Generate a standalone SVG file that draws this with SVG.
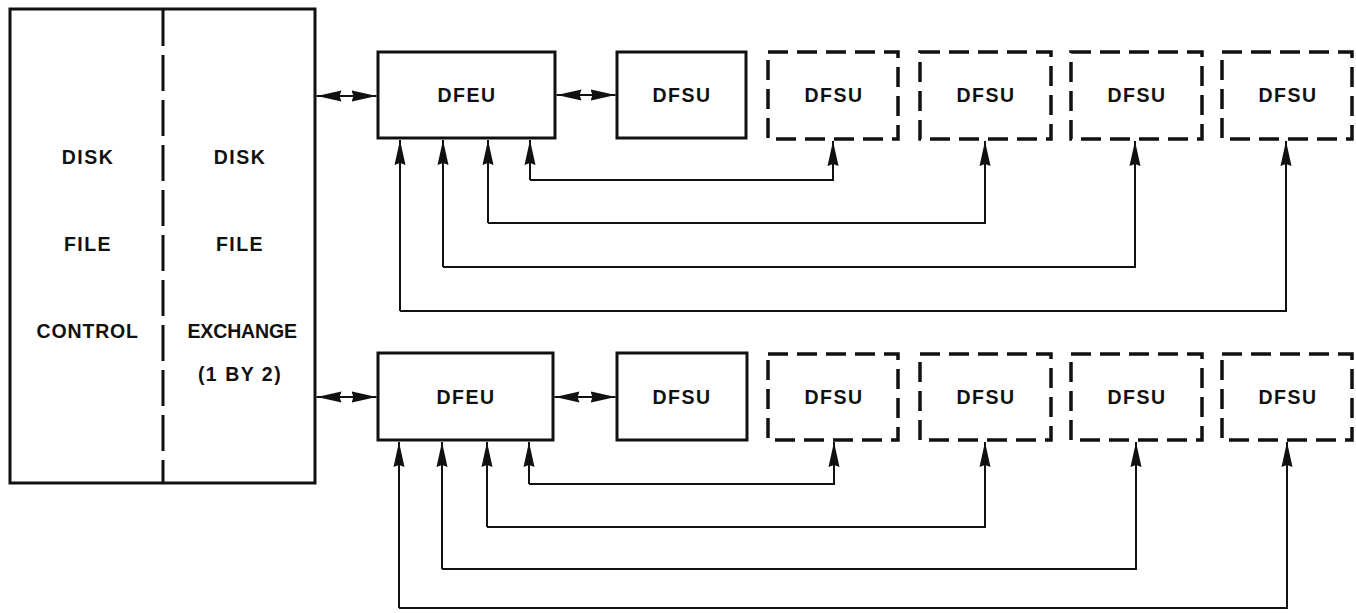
<svg xmlns="http://www.w3.org/2000/svg" width="1356" height="613" viewBox="0 0 1356 613">
<defs>
<style>
.box{fill:none;stroke:#111;stroke-width:3;stroke-linejoin:miter}
.dbox{fill:none;stroke:#111;stroke-width:3.5;stroke-dasharray:20 9}
.div{stroke:#111;stroke-width:3;stroke-dasharray:36 9;fill:none}
.lbl{font-family:"Liberation Sans",Arial,sans-serif;font-weight:bold;font-size:19.5px;letter-spacing:1.5px;fill:#111;text-anchor:middle}
.con{fill:none;stroke:#111;stroke-width:2}
.arr{marker-end:url(#ah)}
.dbl{marker-start:url(#ah);marker-end:url(#ah)}
</style>
<marker id="ah" viewBox="0 0 25 12" refX="25" refY="6" markerWidth="25" markerHeight="12" markerUnits="userSpaceOnUse" orient="auto-start-reverse">
<path d="M0,0.5 L25,6 L0,11.5 L2,6 z" fill="#111"/>
</marker>
</defs>
<rect width="1356" height="613" fill="#fff"/>

<g id="disk-file-control">
<rect class="box" x="10" y="9" width="305" height="474"/>
<line class="div" x1="163" y1="10" x2="163" y2="482"/>
<text class="lbl" x="88" y="164">DISK</text>
<text class="lbl" x="88" y="251">FILE</text>
<text class="lbl" x="88" y="338" textLength="103" lengthAdjust="spacing">CONTROL</text>
<text class="lbl" x="240" y="164">DISK</text>
<text class="lbl" x="240" y="251">FILE</text>
<text class="lbl" x="243" y="338" textLength="111" lengthAdjust="spacing">EXCHANGE</text>
<text class="lbl" x="240" y="381">(1 BY 2)</text>
</g>

<g id="dfeu-top"><rect class="box" x="378" y="52" width="177" height="86"/><text class="lbl" x="467" y="102">DFEU</text></g>
<g id="dfsu-top-1"><rect class="box" x="617" y="52" width="129" height="86"/><text class="lbl" x="682" y="102">DFSU</text></g>
<g id="dfsu-top-2"><rect class="dbox" x="768" y="52" width="130" height="87"/><text class="lbl" x="834" y="102">DFSU</text></g>
<g id="dfsu-top-3"><rect class="dbox" x="920" y="52" width="131" height="87"/><text class="lbl" x="986" y="102">DFSU</text></g>
<g id="dfsu-top-4"><rect class="dbox" x="1071" y="52" width="131" height="87"/><text class="lbl" x="1137" y="102">DFSU</text></g>
<g id="dfsu-top-5"><rect class="dbox" x="1222" y="52" width="130" height="87"/><text class="lbl" x="1288" y="102">DFSU</text></g>

<g id="dfeu-bot"><rect class="box" x="378" y="353" width="175" height="87"/><text class="lbl" x="466" y="404">DFEU</text></g>
<g id="dfsu-bot-1"><rect class="box" x="617" y="353" width="130" height="87"/><text class="lbl" x="682" y="404">DFSU</text></g>
<g id="dfsu-bot-2"><rect class="dbox" x="768" y="354" width="130" height="86"/><text class="lbl" x="834" y="404">DFSU</text></g>
<g id="dfsu-bot-3"><rect class="dbox" x="920" y="354" width="131" height="86"/><text class="lbl" x="986" y="404">DFSU</text></g>
<g id="dfsu-bot-4"><rect class="dbox" x="1071" y="354" width="131" height="86"/><text class="lbl" x="1137" y="404">DFSU</text></g>
<g id="dfsu-bot-5"><rect class="dbox" x="1222" y="354" width="130" height="86"/><text class="lbl" x="1288" y="404">DFSU</text></g>

<g id="connectors">
<line class="con dbl" x1="316.5" y1="96" x2="376.5" y2="96"/>
<line class="con dbl" x1="556.5" y1="95" x2="615.5" y2="95"/>
<path class="con arr" d="M530,180 L530,140"/>
<path class="con arr" d="M530,180 L833,180 L833,141"/>
<path class="con arr" d="M488,223 L488,140"/>
<path class="con arr" d="M488,223 L985,223 L985,141"/>
<path class="con arr" d="M443,267 L443,140"/>
<path class="con arr" d="M443,267 L1135,267 L1135,141"/>
<path class="con arr" d="M400,311 L400,140"/>
<path class="con arr" d="M400,311 L1286,311 L1286,141"/>
<line class="con dbl" x1="316.5" y1="397" x2="376.5" y2="397"/>
<line class="con dbl" x1="554.5" y1="397" x2="615.5" y2="397"/>
<path class="con arr" d="M529,484 L529,442"/>
<path class="con arr" d="M529,484 L834,484 L834,442"/>
<path class="con arr" d="M487,527 L487,442"/>
<path class="con arr" d="M487,527 L985,527 L985,442"/>
<path class="con arr" d="M442,569 L442,442"/>
<path class="con arr" d="M442,569 L1136,569 L1136,442"/>
<path class="con arr" d="M399,608 L399,442"/>
<path class="con arr" d="M399,608 L1287,608 L1287,442"/>
</g>
</svg>
